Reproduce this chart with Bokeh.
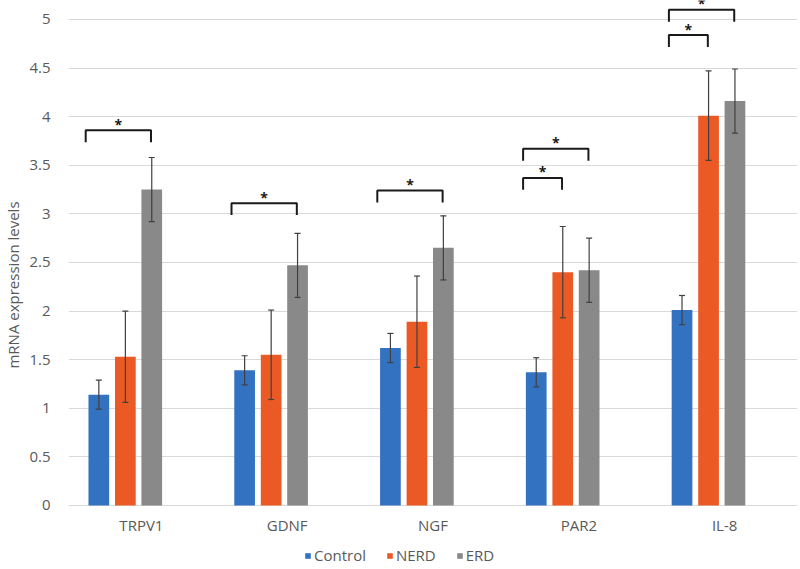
from bokeh.plotting import figure
from bokeh.models import (ColumnDataSource, Range1d, FixedTicker, NumeralTickFormatter,
                          Whisker, TeeHead, Legend, LegendItem)
from bokeh.core.properties import value
from bokeh.embed import file_html
from bokeh.resources import INLINE

# ---- data ----
categories = ["TRPV1", "GDNF", "NGF", "PAR2", "IL-8"]
series = ["Control", "NERD", "ERD"]
control = [1.14, 1.39, 1.62, 1.37, 2.01]
control_err = [0.15, 0.15, 0.15, 0.15, 0.15]
nerd = [1.53, 1.55, 1.89, 2.40, 4.01]
nerd_err = [0.47, 0.46, 0.47, 0.47, 0.46]
erd = [3.25, 2.47, 2.65, 2.42, 4.16]
erd_err = [0.33, 0.33, 0.33, 0.33, 0.33]
y_ticks = [0, 0.5, 1, 1.5, 2, 2.5, 3, 3.5, 4, 4.5, 5]

# significance brackets
sig_group = ["TRPV1", "GDNF", "NGF", "PAR2", "PAR2", "IL-8", "IL-8"]
sig_from = ["Control"] * 7
sig_to = ["ERD", "ERD", "ERD", "ERD", "NERD", "ERD", "NERD"]
sig_height = [3.86, 3.11, 3.24, 3.67, 3.37, 5.10, 4.84]
sig_label = ["*"] * 7

# ---- styles ----
colors = {"Control": "#3272C0", "NERD": "#EB5A25", "ERD": "#898989"}
offsets = {"Control": -0.292, "NERD": -0.11, "ERD": 0.071}
bar_w = 0.142
text_color = "#595959"
grid_color = "#D9D9D9"
font = "Open Sans"
fs = "15px"

values = {"Control": control, "NERD": nerd, "ERD": erd}
errors = {"Control": control_err, "NERD": nerd_err, "ERD": erd_err}

p = figure(width=800, height=569, output_backend="svg", toolbar_location=None,
           x_axis_location=None,
           x_range=Range1d(0, len(categories)), y_range=Range1d(-0.659, 5.195),
           min_border_left=65, min_border_right=3, min_border_top=0, min_border_bottom=0)
p.outline_line_color = None
p.background_fill_color = "white"

renderers = {}
for s in series:
    xs = [i + 0.5 + offsets[s] for i in range(len(categories))]
    src = ColumnDataSource(dict(
        x=xs, top=values[s],
        upper=[v + e for v, e in zip(values[s], errors[s])],
        lower=[v - e for v, e in zip(values[s], errors[s])]))
    r = p.vbar(x="x", top="top", bottom=0, width=bar_w, source=src,
               fill_color=colors[s], line_color=colors[s], line_width=0)
    renderers[s] = r
    w = Whisker(base="x", upper="upper", lower="lower", source=src,
                line_color="#404040", line_width=1.2, level="overlay",
                upper_head=TeeHead(size=6, line_color="#404040", line_width=1.2),
                lower_head=TeeHead(size=6, line_color="#404040", line_width=1.2))
    p.add_layout(w)

# brackets
depth = 0.123
bx, by, sx, sy = [], [], [], []
for g, a, b, h in zip(sig_group, sig_from, sig_to, sig_height):
    c = categories.index(g) + 0.5
    x0 = c + offsets[a] - 0.09
    x1 = c + offsets[b] - 0.005
    bx.append([x0, x0, x1, x1])
    by.append([h - depth, h, h, h - depth])
    sx.append((x0 + x1) / 2)
    sy.append(h)
p.multi_line(xs=bx, ys=by, line_color="#1a1a1a", line_width=2)
p.text(x=sx, y=sy, text=sig_label, text_align="center", text_baseline="alphabetic",
       y_offset=-6, text_font=value(font), text_font_size="14px",
       text_font_style="bold", text_color="#1a1a1a")

# category labels under the zero line
p.text(x=[i + 0.5 for i in range(len(categories))], y=[0] * len(categories),
       text=categories, text_align="center", text_baseline="middle", y_offset=20,
       text_font=value(font), text_font_size=fs, text_color=text_color)

# y axis and grid
p.xgrid.visible = False
p.ygrid.grid_line_color = grid_color
p.ygrid.grid_line_width = 1
p.ygrid.ticker = FixedTicker(ticks=y_ticks)

p.yaxis.ticker = FixedTicker(ticks=y_ticks)
p.yaxis.formatter = NumeralTickFormatter(format="0.[0]")
p.yaxis.axis_line_color = None
p.yaxis.major_tick_line_color = None
p.yaxis.minor_tick_line_color = None
p.yaxis.major_tick_out = 0
p.yaxis.major_label_standoff = 18
p.yaxis.axis_label = "mRNA expression levels"
p.yaxis.axis_label_standoff = 3
p.yaxis.axis_label_text_font_style = "normal"
p.yaxis.major_label_text_font = font
p.yaxis.major_label_text_font_size = fs
p.yaxis.major_label_text_color = text_color
p.yaxis.axis_label_text_font = font
p.yaxis.axis_label_text_font_size = fs
p.yaxis.axis_label_text_color = text_color

legend = Legend(items=[LegendItem(label=s, renderers=[renderers[s]]) for s in series],
                orientation="horizontal", location=(236, 4),
                glyph_width=7, glyph_height=7, label_standoff=3, spacing=20,
                label_text_font=font, label_text_font_size=fs,
                label_text_color=text_color, border_line_color=None,
                background_fill_alpha=0, padding=0, margin=0)
p.add_layout(legend, "center")

with open("out.html", "w") as f:
    f.write(file_html(p, INLINE))
